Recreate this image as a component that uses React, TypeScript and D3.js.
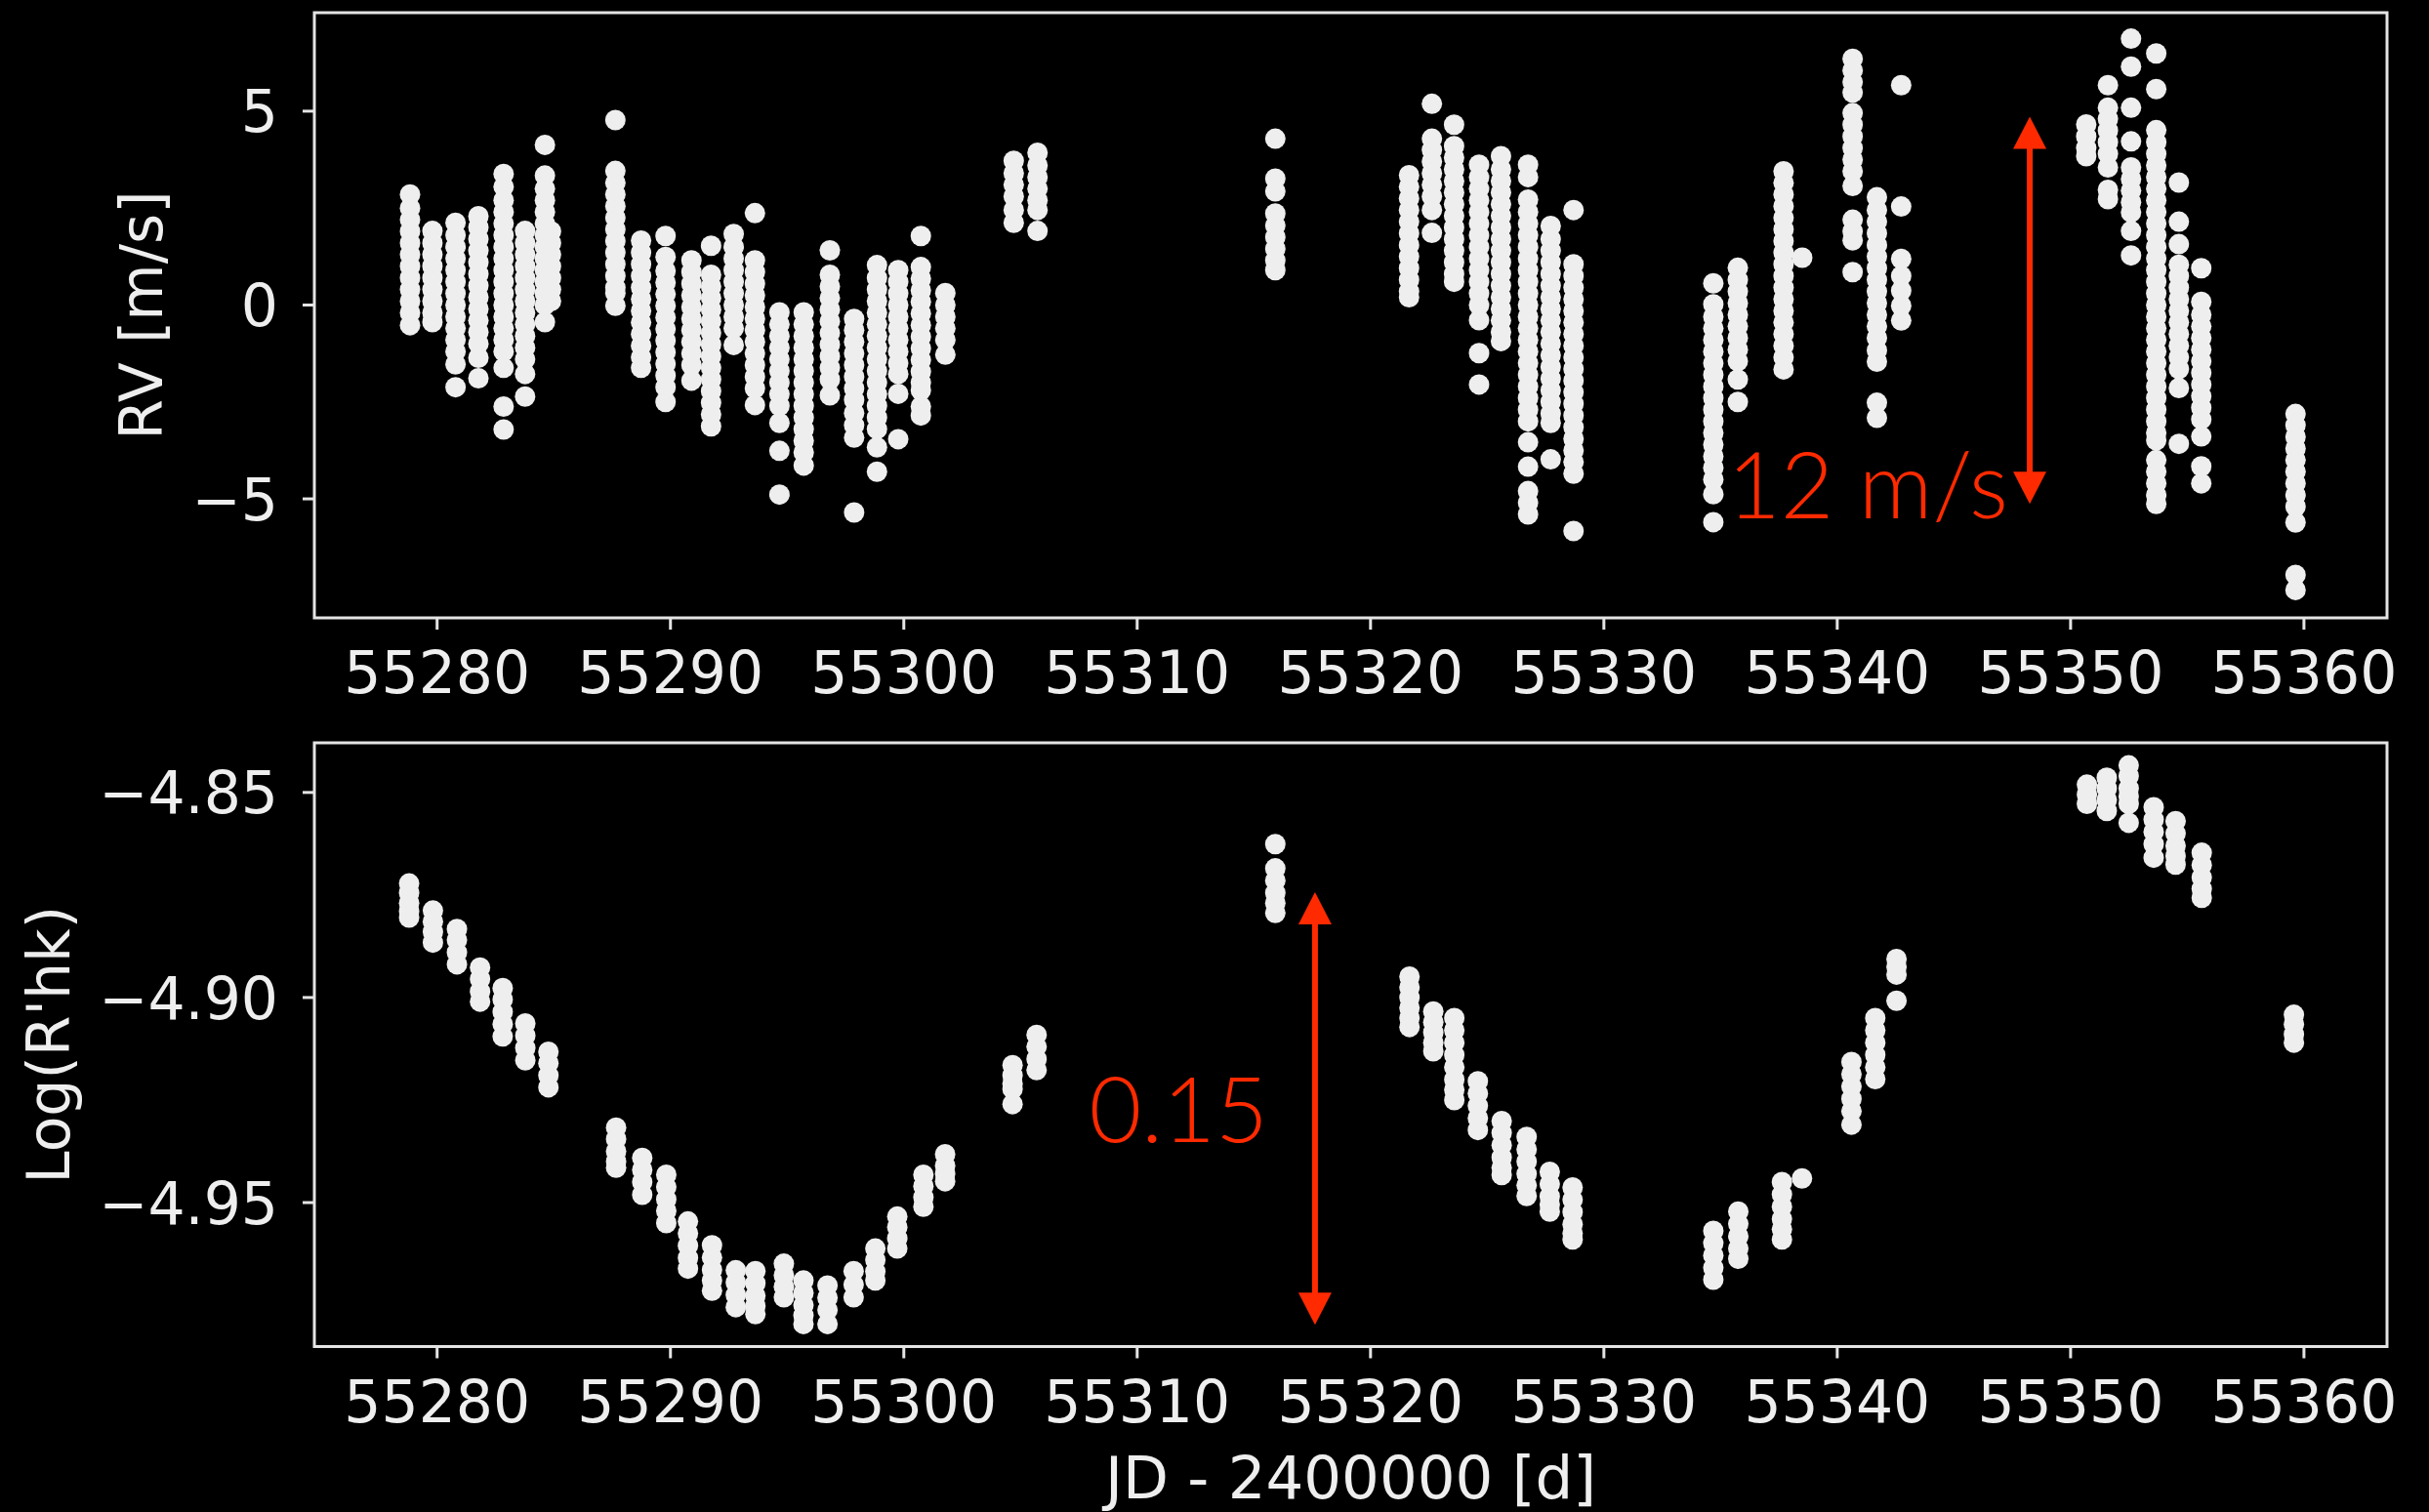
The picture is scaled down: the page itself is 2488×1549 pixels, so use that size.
import React from "react";
import * as d3 from "d3";

// Canvas
const W = 2488;
const H = 1549;

// Shared time axis
const xTicks = [55280, 55290, 55300, 55310, 55320, 55330, 55340, 55350, 55360];
const xDomain = [55274.74, 55363.56];

// Radial velocity panel
const rvTicks = [-5, 0, 5];
const rvDomain = [-8.07, 7.54];

const rvNightJD = [
  55278.84, 55279.8, 55280.79, 55281.77, 55282.85, 55283.77, 55284.62, 55284.88,
  55287.64, 55288.74, 55289.79, 55290.9, 55291.74, 55292.71, 55293.62, 55294.67,
  55295.71, 55296.83, 55297.87, 55298.85, 55299.76, 55300.73, 55301.78, 55304.71,
  55305.73, 55315.92, 55321.65, 55322.63, 55323.58, 55324.65, 55325.59, 55326.75,
  55327.72, 55328.7, 55334.69, 55335.74, 55337.7, 55338.5, 55340.66, 55341.7,
  55342.74, 55350.67, 55351.6, 55352.59, 55353.67, 55354.64, 55355.6, 55359.64,
];

const rvNightValues = [
  [2.85, 2.5, 2.2, 1.9, 1.6, 1.3, 1.0, 0.7, 0.4, 0.1, -0.2, -0.52],
  [1.91, 1.6, 1.3, 1.0, 0.7, 0.4, 0.1, -0.2, -0.44],
  [2.12, 1.8, 1.5, 1.2, 0.9, 0.6, 0.3, 0.0, -0.3, -0.6, -0.9, -1.2, -1.53, -2.12],
  [2.29, 2.0, 1.7, 1.4, 1.1, 0.8, 0.5, 0.2, -0.1, -0.4, -0.7, -1.0, -1.36, -1.89],
  [3.38, 3.05, 2.7, 2.4, 2.1, 1.8, 1.5, 1.2, 0.9, 0.6, 0.3, 0.0, -0.3, -0.6, -0.9, -1.2, -1.62, -2.62, -3.21],
  [1.91, 1.6, 1.3, 1.0, 0.7, 0.4, 0.1, -0.2, -0.5, -0.8, -1.1, -1.4, -1.78, -2.36],
  [4.13, 3.34, 3.0, 2.7, 2.4, 2.1, 1.8, 1.5, 1.2, 0.9, 0.6, 0.3, 0.0, -0.44],
  [1.9, 1.6, 1.3, 1.0, 0.7, 0.4, 0.1],
  [4.77, 3.46, 3.15, 2.85, 2.55, 2.25, 1.95, 1.65, 1.35, 1.05, 0.75, 0.45, 0.31, -0.02],
  [1.66, 1.35, 1.05, 0.75, 0.45, 0.15, -0.15, -0.45, -0.75, -1.05, -1.35, -1.62],
  [1.78, 1.24, 0.88, 0.58, 0.28, -0.02, -0.32, -0.62, -0.92, -1.22, -1.52, -1.82, -2.12, -2.5],
  [1.15, 0.85, 0.55, 0.25, -0.05, -0.35, -0.65, -0.95, -1.25, -1.55, -1.95],
  [1.53, 0.78, 0.48, 0.18, -0.12, -0.42, -0.72, -1.02, -1.32, -1.62, -1.92, -2.22, -2.52, -2.82, -3.13],
  [1.83, 1.5, 1.2, 0.9, 0.6, 0.3, 0.0, -0.3, -0.6, -1.03],
  [2.37, 1.15, 0.85, 0.55, 0.25, -0.05, -0.35, -0.65, -0.95, -1.25, -1.55, -1.85, -2.15, -2.58],
  [-0.19, -0.5, -0.8, -1.1, -1.4, -1.7, -2.0, -2.3, -2.6, -3.04, -3.76, -4.89],
  [-0.19, -0.5, -0.8, -1.1, -1.4, -1.7, -2.0, -2.3, -2.6, -2.9, -3.2, -3.5, -3.8, -4.14],
  [1.41, 0.78, 0.48, 0.18, -0.12, -0.42, -0.72, -1.02, -1.32, -1.62, -1.92, -2.33],
  [-0.36, -0.65, -0.95, -1.25, -1.55, -1.85, -2.15, -2.45, -2.79, -3.1, -3.42, -5.35],
  [1.03, 0.7, 0.4, 0.1, -0.2, -0.5, -0.8, -1.1, -1.4, -1.7, -2.0, -2.3, -2.6, -2.9, -3.2, -3.67, -4.3],
  [0.9, 0.6, 0.3, 0.0, -0.3, -0.6, -0.9, -1.2, -1.5, -1.78, -2.29, -3.46],
  [1.78, 0.98, 0.68, 0.38, 0.08, -0.22, -0.52, -0.82, -1.12, -1.42, -1.72, -2.0, -2.2, -2.62, -2.85],
  [0.31, 0.0, -0.3, -0.6, -0.9, -1.28],
  [3.72, 3.4, 3.1, 2.8, 2.45, 2.12],
  [3.93, 3.6, 3.3, 3.0, 2.7, 2.45, 1.91],
  [4.29, 3.26, 2.93, 2.36, 2.05, 1.75, 1.45, 1.15, 0.9],
  [3.35, 3.05, 2.75, 2.45, 2.15, 1.85, 1.55, 1.25, 0.95, 0.65, 0.35, 0.2],
  [5.19, 4.29, 4.0, 3.7, 3.4, 3.1, 2.8, 2.45, 1.86],
  [4.65, 4.1, 3.8, 3.5, 3.2, 2.9, 2.6, 2.3, 2.0, 1.7, 1.4, 1.1, 0.8, 0.6],
  [3.62, 3.3, 3.0, 2.7, 2.4, 2.1, 1.8, 1.5, 1.2, 0.9, 0.6, 0.3, 0.0, -0.39, -1.24, -2.05],
  [3.84, 3.5, 3.2, 2.9, 2.6, 2.3, 2.0, 1.7, 1.4, 1.1, 0.8, 0.5, 0.2, -0.1, -0.4, -0.7, -0.93],
  [3.62, 3.3, 2.72, 2.4, 2.1, 1.8, 1.5, 1.2, 0.9, 0.6, 0.3, 0.0, -0.3, -0.6, -0.9, -1.2, -1.5, -1.8, -2.1, -2.4, -2.7, -3.0, -3.54, -4.17, -4.8, -5.1, -5.4],
  [2.04, 1.7, 1.4, 1.1, 0.8, 0.5, 0.2, -0.1, -0.4, -0.7, -1.0, -1.3, -1.6, -1.9, -2.2, -2.5, -2.8, -3.04, -3.98],
  [2.45, 1.05, 0.75, 0.45, 0.15, -0.15, -0.45, -0.75, -1.05, -1.35, -1.65, -1.95, -2.25, -2.55, -2.85, -3.15, -3.45, -3.75, -4.05, -4.35, -5.83],
  [0.56, 0.02, -0.3, -0.6, -0.9, -1.2, -1.5, -1.8, -2.1, -2.4, -2.7, -3.0, -3.3, -3.6, -3.9, -4.2, -4.5, -4.88, -5.6],
  [0.96, 0.65, 0.35, 0.05, -0.25, -0.55, -0.85, -1.15, -1.45, -1.92, -2.5],
  [3.45, 3.15, 2.85, 2.55, 2.25, 1.95, 1.65, 1.35, 1.05, 0.75, 0.45, 0.15, -0.15, -0.45, -0.75, -1.05, -1.35, -1.66],
  [1.22],
  [6.35, 6.05, 5.75, 5.48, 4.95, 4.65, 4.35, 4.05, 3.75, 3.45, 3.07, 2.2, 1.9, 1.67, 0.85],
  [2.78, 2.45, 2.15, 1.85, 1.55, 1.25, 0.95, 0.65, 0.35, 0.05, -0.25, -0.55, -0.85, -1.17, -1.46, -2.52, -2.91],
  [5.67, 2.54, 1.19, 0.75, 0.37, -0.02, -0.4],
  [4.66, 4.35, 4.05, 3.84],
  [5.67, 5.09, 4.8, 4.5, 4.2, 3.9, 3.55, 2.97, 2.73],
  [6.87, 6.15, 5.09, 4.22, 3.55, 3.25, 2.95, 2.65, 2.39, 1.91, 1.28],
  [6.49, 5.57, 4.51, 4.2, 3.9, 3.6, 3.3, 3.0, 2.7, 2.4, 2.1, 1.8, 1.5, 1.2, 0.9, 0.6, 0.3, 0.0, -0.3, -0.6, -0.9, -1.2, -1.5, -1.8, -2.1, -2.4, -2.7, -3.0, -3.3, -3.49, -4.0, -4.3, -4.6, -4.9, -5.13],
  [3.16, 2.15, 1.57, 1.04, 0.75, 0.45, 0.15, -0.15, -0.45, -0.75, -1.05, -1.35, -1.65, -2.14, -3.58],
  [0.95, 0.08, -0.25, -0.55, -0.85, -1.15, -1.45, -1.75, -2.05, -2.35, -2.65, -2.95, -3.39, -4.16, -4.6],
  [-2.81, -3.1, -3.4, -3.7, -4.0, -4.3, -4.6, -4.9, -5.2, -5.61, -6.96, -7.35],
];

// Chromospheric activity panel
const rhkTicks = [-4.95, -4.9, -4.85];
const rhkDomain = [-4.9851, -4.8379];

const rhkNightJD = [
  55278.8, 55279.82, 55280.85, 55281.84, 55282.81, 55283.78, 55284.77, 55287.67,
  55288.79, 55289.82, 55290.75, 55291.78, 55292.8, 55293.64, 55294.86, 55295.7,
  55296.73, 55297.85, 55298.78, 55299.72, 55300.84, 55301.77, 55304.66, 55305.69,
  55315.92, 55321.67, 55322.69, 55323.59, 55324.6, 55325.62, 55326.69, 55327.68,
  55328.66, 55334.69, 55335.76, 55337.63, 55338.49, 55340.61, 55341.63, 55342.54,
  55350.7, 55351.55, 55352.49, 55353.56, 55354.5, 55355.62, 55359.57,
];

const rhkNightValues = [
  [-4.8722, -4.8745, -4.877, -4.879, -4.8805],
  [-4.8788, -4.8815, -4.884, -4.8866],
  [-4.8833, -4.886, -4.889, -4.8919],
  [-4.8927, -4.8955, -4.8985, -4.901],
  [-4.8977, -4.9005, -4.9035, -4.9065, -4.9095],
  [-4.9063, -4.9093, -4.9123, -4.9153],
  [-4.9132, -4.916, -4.919, -4.9219],
  [-4.9317, -4.9345, -4.9375, -4.94, -4.9415],
  [-4.9391, -4.942, -4.945, -4.9481],
  [-4.9432, -4.9462, -4.9492, -4.952, -4.955],
  [-4.9546, -4.9575, -4.9605, -4.9635, -4.9661],
  [-4.9604, -4.9634, -4.9664, -4.969, -4.9715],
  [-4.9665, -4.9695, -4.9725, -4.9755],
  [-4.9667, -4.9697, -4.9727, -4.9752, -4.9772],
  [-4.9649, -4.9677, -4.9705, -4.9731],
  [-4.969, -4.972, -4.975, -4.9775, -4.9796],
  [-4.9702, -4.9732, -4.9762, -4.9796],
  [-4.9667, -4.97, -4.9731],
  [-4.9612, -4.964, -4.9668, -4.969],
  [-4.9534, -4.956, -4.9587, -4.9612],
  [-4.9432, -4.946, -4.9487, -4.951],
  [-4.9382, -4.941, -4.943, -4.9448],
  [-4.9165, -4.919, -4.921, -4.9223, -4.926],
  [-4.9091, -4.912, -4.915, -4.9177],
  [-4.8626, -4.8685, -4.8715, -4.8745, -4.877, -4.8794],
  [-4.8949, -4.8975, -4.9, -4.9025, -4.905, -4.9072],
  [-4.9034, -4.906, -4.9085, -4.911, -4.9131],
  [-4.905, -4.908, -4.911, -4.914, -4.917, -4.92, -4.9225, -4.925],
  [-4.9204, -4.9234, -4.9264, -4.9294, -4.9323],
  [-4.9301, -4.933, -4.936, -4.939, -4.9415, -4.9433],
  [-4.934, -4.937, -4.94, -4.943, -4.9458, -4.9484],
  [-4.9425, -4.9455, -4.9485, -4.9505, -4.9522],
  [-4.9463, -4.9493, -4.9523, -4.9553, -4.9575, -4.959],
  [-4.9569, -4.9599, -4.9629, -4.9659, -4.9688],
  [-4.9522, -4.9552, -4.9582, -4.9612, -4.9637],
  [-4.945, -4.948, -4.951, -4.954, -4.9565, -4.959],
  [-4.9441],
  [-4.9157, -4.9187, -4.9217, -4.9247, -4.9277, -4.931],
  [-4.905, -4.908, -4.911, -4.914, -4.917, -4.9199],
  [-4.8906, -4.8925, -4.8944, -4.9008],
  [-4.8481, -4.8505, -4.8528],
  [-4.8464, -4.849, -4.8518, -4.8545],
  [-4.8434, -4.846, -4.849, -4.851, -4.8528, -4.8574],
  [-4.8536, -4.8566, -4.8596, -4.8626, -4.8659],
  [-4.857, -4.86, -4.863, -4.8655, -4.8676],
  [-4.8647, -4.8677, -4.8707, -4.8735, -4.8757],
  [-4.9042, -4.9065, -4.909, -4.911],
];

// Amplitude annotations (time, lower end, upper end, text)
const rvArrowJD = 55348.25;
const rvArrowEnds = [-5.13, 4.86];
const rvArrowText = "12 m/s";
const rhkArrowJD = 55317.62;
const rhkArrowEnds = [-4.9798, -4.8743];
const rhkArrowText = "0.15";

// Styling
const FG = "#eeeeee";
const SPINE = "#e4e4e4";
const RED = "#ff2a00";
const TICK_FONT = "'DejaVu Sans', sans-serif";
const NOTE_FONT = "'Helvetica Neue', 'Lato', 'Open Sans', sans-serif";
const MARKER_R = 10.5;

const panelLeft = 322;
const panelRight = 2445;
const topPanel = { top: 13, bottom: 633 };
const botPanel = { top: 761, bottom: 1379.5 };

const fmtMinus = (s: string) => s.replace("-", "\u2212");

function flatten(jds: number[], vals: number[][]) {
  const out: { jd: number; v: number }[] = [];
  jds.forEach((jd, i) => vals[i].forEach((v) => out.push({ jd, v })));
  return out;
}

function Arrow({ x, y1, y2, width }: { x: number; y1: number; y2: number; width: number }) {
  const head = 33;
  const half = 17;
  const top = Math.min(y1, y2);
  const bot = Math.max(y1, y2);
  return (
    <g fill={RED} stroke="none">
      <line x1={x} x2={x} y1={top + head - 2} y2={bot - head + 2} stroke={RED} strokeWidth={width} />
      <path d={`M${x},${top} L${x - half},${top + head} L${x + half},${top + head} Z`} />
      <path d={`M${x},${bot} L${x - half},${bot - head} L${x + half},${bot - head} Z`} />
    </g>
  );
}

function Panel({
  top,
  bottom,
  yDomain,
  yTicks,
  yFormat,
  points,
  yLabel,
  yLabelX,
  children,
}: {
  top: number;
  bottom: number;
  yDomain: number[];
  yTicks: number[];
  yFormat: (v: number) => string;
  points: { jd: number; v: number }[];
  yLabel: string;
  yLabelX: number;
  children?: (x: d3.ScaleLinear<number, number>, y: d3.ScaleLinear<number, number>) => React.ReactNode;
}) {
  const x = d3.scaleLinear().domain(xDomain).range([panelLeft, panelRight]);
  const y = d3.scaleLinear().domain(yDomain).range([bottom, top]);
  const tickLen = 12;
  return (
    <g>
      <g>
        {points.map((p, i) => (
          <circle key={i} cx={x(p.jd)} cy={y(p.v)} r={MARKER_R} fill={FG} />
        ))}
      </g>
      <rect
        x={panelLeft}
        y={top}
        width={panelRight - panelLeft}
        height={bottom - top}
        fill="none"
        stroke={SPINE}
        strokeWidth={3}
      />
      {xTicks.map((t) => (
        <g key={t}>
          <line x1={x(t)} x2={x(t)} y1={bottom} y2={bottom + tickLen} stroke={SPINE} strokeWidth={3} />
          <text
            x={x(t)}
            y={bottom + 77}
            textAnchor="middle"
            fontFamily={TICK_FONT}
            fontSize={60}
            fill={FG}
          >
            {t}
          </text>
        </g>
      ))}
      {yTicks.map((t) => (
        <g key={t}>
          <line x1={panelLeft - tickLen} x2={panelLeft} y1={y(t)} y2={y(t)} stroke={SPINE} strokeWidth={3} />
          <text
            x={panelLeft - 37}
            y={y(t)}
            dy="0.36em"
            textAnchor="end"
            fontFamily={TICK_FONT}
            fontSize={60}
            fill={FG}
          >
            {fmtMinus(yFormat(t))}
          </text>
        </g>
      ))}
      <text
        transform={`translate(${yLabelX},${(top + bottom) / 2}) rotate(-90)`}
        textAnchor="middle"
        fontFamily={TICK_FONT}
        fontSize={60}
        fill={FG}
      >
        {yLabel}
      </text>
      {children && children(x, y)}
    </g>
  );
}

export default function App() {
  const rvPoints = flatten(rvNightJD, rvNightValues);
  const rhkPoints = flatten(rhkNightJD, rhkNightValues);
  return (
    <div style={{ position: "absolute", left: 0, top: 0, width: W, height: H, background: "#000" }}>
      <svg width={W} height={H} viewBox={`0 0 ${W} ${H}`} style={{ display: "block", background: "#000" }}>
        <rect width={W} height={H} fill="#000" />
        <Panel
          top={topPanel.top}
          bottom={topPanel.bottom}
          yDomain={rvDomain}
          yTicks={rvTicks}
          yFormat={d3.format("d")}
          points={rvPoints}
          yLabel="RV [m/s]"
          yLabelX={166}
        >
          {(x, y) => {
            const ax = x(rvArrowJD);
            const yLow = y(rvArrowEnds[0]);
            const yHigh = y(rvArrowEnds[1]);
            return (
              <g>
                <Arrow x={ax} y1={yHigh} y2={yLow} width={6} />
                <text
                  x={ax - 22}
                  y={yLow + 15}
                  textAnchor="end"
                  fontFamily={NOTE_FONT}
                  fontWeight={300}
                  fontSize={94}
                  fill={RED}
                >
                  {rvArrowText}
                </text>
              </g>
            );
          }}
        </Panel>
        <Panel
          top={botPanel.top}
          bottom={botPanel.bottom}
          yDomain={rhkDomain}
          yTicks={rhkTicks}
          yFormat={d3.format(".2f")}
          points={rhkPoints}
          yLabel="Log(R'hk)"
          yLabelX={71}
        >
          {(x, y) => {
            const ax = x(rhkArrowJD);
            const yLow = y(rhkArrowEnds[0]);
            const yHigh = y(rhkArrowEnds[1]);
            return (
              <g>
                <Arrow x={ax} y1={yHigh} y2={yLow} width={6} />
                <text
                  x={ax - 48}
                  y={(yLow + yHigh) / 2 + 34}
                  textAnchor="end"
                  fontFamily={NOTE_FONT}
                  fontWeight={300}
                  fontSize={93}
                  fill={RED}
                >
                  {rhkArrowText}
                </text>
              </g>
            );
          }}
        </Panel>
        <text
          x={(panelLeft + panelRight) / 2}
          y={1535}
          textAnchor="middle"
          fontFamily={TICK_FONT}
          fontSize={61}
          fill={FG}
        >
          JD - 2400000 [d]
        </text>
      </svg>
    </div>
  );
}
